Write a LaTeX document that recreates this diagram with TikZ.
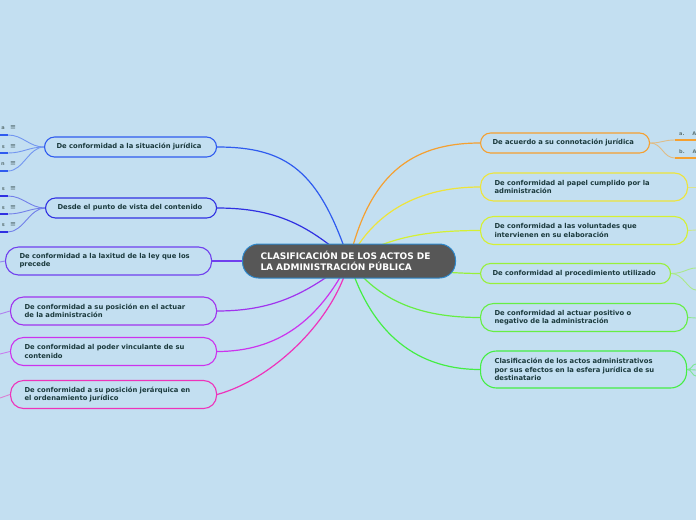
\documentclass[tikz,border=0pt]{standalone}
\usepackage{fontspec}
\newfontfamily\dejavu{DejaVu Sans}
\definecolor{bgblue}{HTML}{C3DFF1}
\definecolor{txt}{HTML}{1B3A3D}
\definecolor{hubfill}{HTML}{575757}
\definecolor{hubline}{HTML}{2E88CC}
\definecolor{cA}{HTML}{2F5BEF}
\definecolor{cB}{HTML}{3030E2}
\definecolor{cC}{HTML}{7040EE}
\definecolor{cD}{HTML}{A033EE}
\definecolor{cE}{HTML}{CC33EE}
\definecolor{cF}{HTML}{EE33BB}
\definecolor{cG}{HTML}{F5A030}
\definecolor{cH}{HTML}{EEE43A}
\definecolor{cI}{HTML}{D5F033}
\definecolor{cJ}{HTML}{98F03A}
\definecolor{cK}{HTML}{66EE44}
\definecolor{cL}{HTML}{44EE44}
\pgfdeclarelayer{back}
\pgfsetlayers{back,main}
\tikzset{
  topic/.style={draw=#1, line width=1.1pt, rounded corners=10pt, anchor=west, align=left,
    text=txt, font=\dejavu\bfseries\fontsize{6.8}{8.2}\selectfont,
    inner xsep=12pt, inner ysep=0pt, minimum height=20pt},
  twoline/.style={inner xsep=14pt, minimum height=28pt, rounded corners=13pt},
  link/.style={draw=#1, line width=1.2pt},
  twig/.style={draw=#1!55!bgblue, line width=0.9pt},
  stub/.style={draw=#1, line width=2pt},
  leaf/.style={font=\dejavu\bfseries\fontsize{5}{6}\selectfont, text=txt!70, inner sep=0pt},
}
\begin{document}
\begin{tikzpicture}[x=1pt,y=-1pt]
\useasboundingbox (0,0) rectangle (696,520);

\node (title) [anchor=west, fill=hubfill, draw=hubline, line width=1pt, rounded corners=16pt,
  text width=177pt, minimum height=34pt, inner xsep=18pt, inner ysep=0pt, align=left, text=white,
  font=\dejavu\bfseries\fontsize{9}{11}\selectfont] at (242,261)
  {CLASIFICACIÓN DE LOS ACTOS DE\\LA ADMINISTRACIÓN PÚBLICA};

\node (l1) [topic=cA, text width=148pt] at (44,147) {De conformidad a la situación jurídica};
\node (l2) [topic=cB, text width=147pt] at (45,208) {Desde el punto de vista del contenido};
\node (l3) [topic=cC, twoline, text width=178pt] at (5,261) {De conformidad a la laxitud de la ley que los\\precede};
\node (l4) [topic=cD, twoline, text width=178pt] at (10,311) {De conformidad a su posición en el actuar\\de la administración};
\node (l5) [topic=cE, twoline, text width=178pt] at (10,351.5) {De conformidad al poder vinculante de su\\contenido};
\node (l6) [topic=cF, twoline, text width=178pt] at (10,394.5) {De conformidad a su posición jerárquica en\\el ordenamiento jurídico};

\node (r1) [topic=cG, text width=145pt] at (480,143) {De acuerdo a su connotación jurídica};
\node (r2) [topic=cH, twoline, text width=179pt] at (480,187) {De conformidad al papel cumplido por la\\administración};
\node (r3) [topic=cI, twoline, text width=179pt] at (480,230.5) {De conformidad a las voluntades que\\intervienen en su elaboración};
\node (r4) [topic=cJ, text width=166pt] at (480,273.5) {De conformidad al procedimiento utilizado};
\node (r5) [topic=cK, twoline, text width=179pt] at (480,317.5) {De conformidad al actuar positivo o\\negativo de la administración};
\node (r6) [topic=cL, twoline, text width=178pt, minimum height=37pt, rounded corners=16pt] at (480,369.5)
  {Clasificación de los actos administrativos\\por sus efectos en la esfera jurídica de su\\destinatario};

\node (a1) [leaf, anchor=east] at (5,128) {a};
\node (a2) [leaf, anchor=east] at (5,147) {s};
\node (a3) [leaf, anchor=east] at (5,164) {n};
\node (b1) [leaf, anchor=east] at (5,189) {s};
\node (b2) [leaf, anchor=east] at (5,208) {s};
\node (b3) [leaf, anchor=east] at (5,225) {s};
\foreach \y [count=\i] in {128,147,164,189,208,225}
  \node (m\i) [leaf, font=\dejavu\fontsize{7}{7}\selectfont, text=txt!80] at (13,\y) {≡};
\node (ra) [leaf, anchor=west] at (679,134) {a.\hspace{8pt}A};
\node (rb) [leaf, anchor=west] at (679,152) {b.\hspace{8pt}A};

\coordinate (ua1) at (8,135);  \coordinate (ea1) at (0,135);
\coordinate (ua2) at (8,153);  \coordinate (ea2) at (0,153);
\coordinate (ua3) at (8,171);  \coordinate (ea3) at (0,171);
\coordinate (ub1) at (8,196);  \coordinate (eb1) at (0,196);
\coordinate (ub2) at (8,214);  \coordinate (eb2) at (0,214);
\coordinate (ub3) at (8,232);  \coordinate (eb3) at (0,232);
\coordinate (ura) at (675,140); \coordinate (era) at (696,140);
\coordinate (urb) at (675,158); \coordinate (erb) at (696,158);

\begin{pgfonlayer}{back}
\fill[bgblue] (0,0) rectangle (696,520);
\draw[link=cA] (title.center) .. controls +(-30,-90) and +(70,0) .. (l1.east);
\draw[link=cB] (title.center) .. controls +(-40,-35) and +(60,0) .. (l2.east);
\draw[link=cC] (title.center) -- (l3.east);
\draw[link=cD] (title.center) .. controls +(-40,30) and +(60,0) .. (l4.east);
\draw[link=cE] (title.center) .. controls +(-30,60) and +(60,0) .. (l5.east);
\draw[link=cF] (title.center) .. controls +(-15,60) and +(55,-15) .. (l6.east);
\draw[link=cG] (title.center) .. controls +(20,-85) and +(-70,0) .. (r1.west);
\draw[link=cH] (title.center) .. controls +(25,-50) and +(-60,0) .. (r2.west);
\draw[link=cI] (title.center) .. controls +(40,-25) and +(-50,0) .. (r3.west);
\draw[link=cJ] (title.center) .. controls +(60,10) and +(-20,0) .. (r4.west);
\draw[link=cK] (title.center) .. controls +(30,40) and +(-60,0) .. (r5.west);
\draw[link=cL] (title.center) .. controls +(20,65) and +(-70,0) .. (r6.west);

\foreach \c in {ua1,ua2,ua3}
  \draw[twig=cA] (l1.west) .. controls +(-15,0) and +(15,0) .. (\c);
\foreach \c in {ub1,ub2,ub3}
  \draw[twig=cB] (l2.west) .. controls +(-15,0) and +(15,0) .. (\c);
\draw[stub=cA] (ua1) -- (ea1);
\draw[stub=cA] (ua2) -- (ea2);
\draw[stub=cA] (ua3) -- (ea3);
\draw[stub=cB] (ub1) -- (eb1);
\draw[stub=cB] (ub2) -- (eb2);
\draw[stub=cB] (ub3) -- (eb3);
\draw[twig=cG] (r1.east) .. controls +(12,0) and +(-12,0) .. (ura);
\draw[twig=cG] (r1.east) .. controls +(12,0) and +(-12,0) .. (urb);
\draw[stub=cG] (ura) -- (era);
\draw[stub=cG] (urb) -- (erb);

\coordinate (el3) at (0,262);
\coordinate (el4) at (0,314);
\coordinate (el5) at (0,354);
\coordinate (el6) at (0,398);
\draw[twig=cC] (l3.west) -- (el3);
\draw[twig=cD] (l4.west) -- (el4);
\draw[twig=cE] (l5.west) -- (el5);
\draw[twig=cF] (l6.west) -- (el6);
\coordinate (er2) at (696,187);
\coordinate (er3) at (696,230);
\coordinate (er4a) at (696,268);
\coordinate (er4b) at (696,290);
\coordinate (er5) at (696,318);
\coordinate (er6a) at (696,364);
\coordinate (er6b) at (696,370);
\coordinate (er6c) at (696,376);
\draw[twig=cH] (r2.east) -- (er2);
\draw[twig=cI] (r3.east) -- (er3);
\draw[twig=cJ] (r4.east) .. controls +(12,0) and +(-8,0) .. (er4a);
\draw[twig=cJ] (r4.east) .. controls +(12,0) and +(-8,0) .. (er4b);
\draw[twig=cK] (r5.east) -- (er5);
\draw[twig=cL] (r6.east) .. controls +(5,0) and +(-4,0) .. (er6a);
\draw[twig=cL] (r6.east) -- (er6b);
\draw[twig=cL] (r6.east) .. controls +(5,0) and +(-4,0) .. (er6c);
\end{pgfonlayer}
\end{tikzpicture}
\end{document}
